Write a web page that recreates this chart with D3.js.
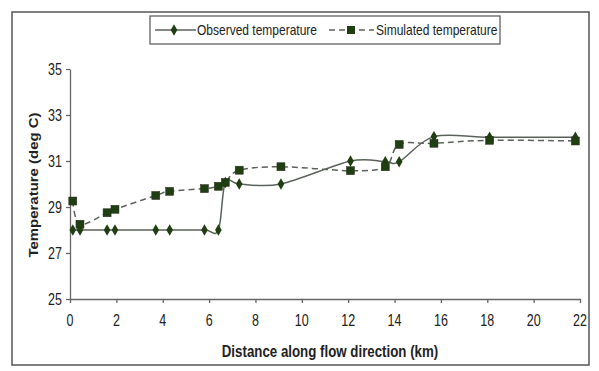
<!DOCTYPE html>
<html><head><meta charset="utf-8">
<script src="https://cdn.jsdelivr.net/npm/d3@7"></script>
<style>body{margin:0;background:#fff}svg{display:block}text{font-family:"Liberation Sans",Arial,sans-serif}</style>
</head><body><svg id="c" width="599" height="371"></svg>
<script>
const obsX = [0.12, 0.43, 1.6, 1.94, 3.7, 4.3, 5.8, 6.4, 6.7, 7.3, 9.1, 12.1, 13.6, 14.2, 15.7, 18.1, 21.8];
const obsY = [28, 28, 28, 28, 28, 28, 28, 28, 30.07, 30.0, 30.0, 31.0, 30.97, 30.97, 32.06, 32.03, 32.03];
const simX = [0.12, 0.43, 1.6, 1.94, 3.7, 4.3, 5.8, 6.4, 6.7, 7.3, 9.1, 12.1, 13.6, 14.2, 15.7, 18.1, 21.8];
const simY = [29.26, 28.25, 28.75, 28.9, 29.5, 29.68, 29.8, 29.9, 30.07, 30.6, 30.75, 30.58, 30.75, 31.72, 31.77, 31.9, 31.87];
const xTicks = [0,2,4,6,8,10,12,14,16,18,20,22];
const yTicks = [25,27,29,31,33,35];
const seriesNames = ["Observed temperature", "Simulated temperature"];

const svg = d3.select("#c");
const lineCol = "#5b625b", markCol = "#1f3f12", txt = "#222";
svg.append("rect").attr("x",12).attr("y",12).attr("width",577).attr("height",353)
  .attr("fill","none").attr("stroke","#555").attr("stroke-width",1.5);

const x = d3.scaleLinear().domain([0,22]).range([70,580]);
const y = d3.scaleLinear().domain([25,35]).range([299,69]);

const xa = svg.append("g").attr("transform","translate(0,299)")
  .call(d3.axisBottom(x).tickValues(xTicks).tickSize(4).tickSizeOuter(0).tickFormat(""));
const ya = svg.append("g").attr("transform","translate(70,0)")
  .call(d3.axisLeft(y).tickValues(yTicks).tickSize(4).tickSizeOuter(0).tickFormat(""));
[xa,ya].forEach(a=>a.selectAll("path,line").attr("stroke","#666").attr("stroke-width",1.3));

// tick labels (slightly tall letters as in the reference)
svg.selectAll(".xl").data(xTicks).enter().append("text")
  .attr("transform",d=>`translate(${x(d)},326) scale(1,1.25)`)
  .attr("text-anchor","middle").attr("font-size",12.5).attr("fill",txt).text(d=>d);
svg.selectAll(".yl").data(yTicks).enter().append("text")
  .attr("transform",d=>`translate(62,${y(d)+5.5}) scale(1,1.25)`)
  .attr("text-anchor","end").attr("font-size",12.5).attr("fill",txt).text(d=>d);

svg.append("text").attr("transform","translate(330,357) scale(1,1.2)").attr("text-anchor","middle")
  .attr("font-size",13.3).attr("font-weight","bold").attr("fill",txt).text("Distance along flow direction (km)");
svg.append("text").attr("transform","translate(38,185) rotate(-90) scale(1.15,1)").attr("text-anchor","middle")
  .attr("font-size",13).attr("font-weight","bold").attr("fill",txt).text("Temperature (deg C)");

const line = d3.line().curve(d3.curveCardinal.tension(0)).x(d=>x(d[0])).y(d=>y(d[1]));
const obs = obsX.map((v,i)=>[v,obsY[i]]);
const sim = simX.map((v,i)=>[v,simY[i]]);

svg.append("path").datum(sim).attr("d",line).attr("fill","none").attr("stroke",lineCol)
  .attr("stroke-width",1.5).attr("stroke-dasharray","6,4");
svg.append("path").datum(obs).attr("d",line).attr("fill","none").attr("stroke",lineCol).attr("stroke-width",1.5);

const diamond = d3.symbol().type(d3.symbolDiamond).size(38);
svg.selectAll(".o").data(obs).enter().append("path")
  .attr("d",diamond).attr("transform",d=>`translate(${x(d[0])},${y(d[1])})`).attr("fill",markCol);
svg.selectAll(".s").data(sim).enter().append("rect")
  .attr("x",d=>x(d[0])-4).attr("y",d=>y(d[1])-4).attr("width",8).attr("height",8)
  .attr("fill",markCol).attr("stroke","#2b2b1f").attr("stroke-width",0.5);

// legend
const lg = svg.append("g");
lg.append("rect").attr("x",150).attr("y",16).attr("width",350).attr("height",28)
  .attr("fill","#fff").attr("stroke","#555").attr("stroke-width",1.2);
lg.append("line").attr("x1",155).attr("x2",196).attr("y1",30).attr("y2",30).attr("stroke",lineCol).attr("stroke-width",1.5);
lg.append("path").attr("d",diamond).attr("transform","translate(174,30)").attr("fill",markCol);
lg.append("text").attr("transform","translate(197,35) scale(1,1.2)").attr("font-size",12).attr("fill",txt).text(seriesNames[0]);
lg.append("line").attr("x1",329).attr("x2",374).attr("y1",30).attr("y2",30).attr("stroke",lineCol)
  .attr("stroke-width",1.5).attr("stroke-dasharray","6,4");
lg.append("rect").attr("x",347).attr("y",26).attr("width",8).attr("height",8).attr("fill",markCol);
lg.append("text").attr("transform","translate(376,35) scale(1,1.2)").attr("font-size",12).attr("fill",txt).text(seriesNames[1]);
</script></body></html>
